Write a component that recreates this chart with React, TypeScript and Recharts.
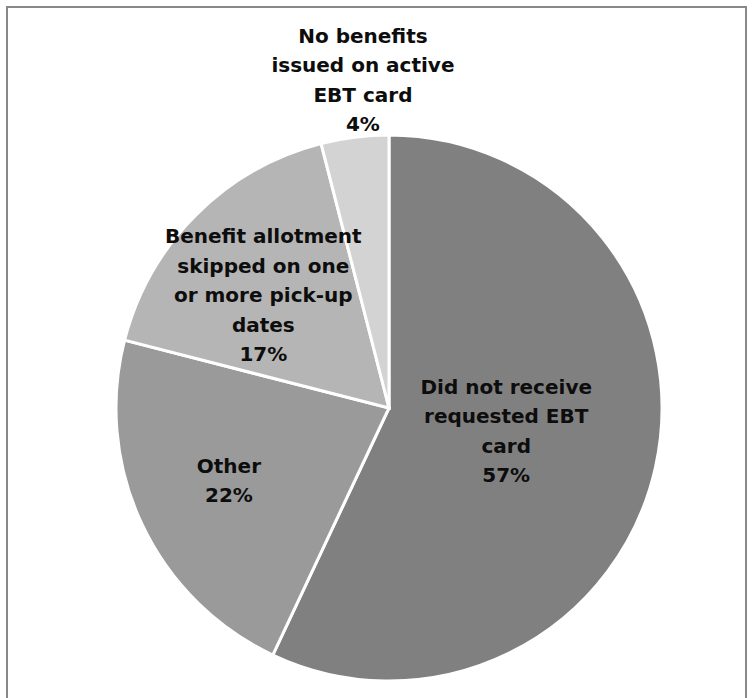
import { PieChart, Pie, Cell } from "recharts";

// slices, clockwise from 12 o'clock
const categories = [
  ["Did not receive", "requested EBT", "card"],
  ["Other"],
  ["Benefit allotment", "skipped on one", "or more pick-up", "dates"],
  ["No benefits", "issued on active", "EBT card"],
];
const shares = [57, 22, 17, 4];

const COLORS = ["#808080", "#9a9a9a", "#b5b5b5", "#d3d3d3"];
// how far out each label sits (fraction of radius) plus small nudges
const LABEL_POS = [
  { k: 0.44, dx: 0, dy: -3 },
  { k: 0.64, dx: -2, dy: -2 },
  { k: 0.62, dx: -6, dy: 7 },
  { k: 1.2, dx: 15, dy: -3 },
];
const RAD = Math.PI / 180;
const LINE_H = 29.5;

const data = shares.map((v, i) => ({ name: categories[i].join(" "), value: v, idx: i }));

function SliceLabel(props: any) {
  const { cx, cy, midAngle, outerRadius, index, value } = props;
  const pos = LABEL_POS[index];
  const r = outerRadius * pos.k;
  const x = cx + Math.cos(-midAngle * RAD) * r + pos.dx;
  const y = cy + Math.sin(-midAngle * RAD) * r + pos.dy;
  const lines = [...categories[index], `${value}%`];
  const top = y - ((lines.length - 1) / 2) * LINE_H;
  return (
    <text
      x={x}
      y={top}
      textAnchor="middle"
      dominantBaseline="central"
      fill="#0d0d0d"
      fontFamily="'DejaVu Sans', sans-serif"
      fontWeight="bold"
      fontSize={20}
    >
      {lines.map((l, i) => (
        <tspan key={i} x={x} y={top + i * LINE_H}>
          {l}
        </tspan>
      ))}
    </text>
  );
}

export default function App() {
  return (
    <div style={{ position: "absolute", left: 0, top: 0, width: 754, height: 698, background: "#fff" }}>
      <svg width={754} height={698} style={{ position: "absolute", left: 0, top: 0 }}>
        <rect x={7} y={7} width={739} height={720} fill="none" stroke="#888" strokeWidth={2} />
      </svg>
      <PieChart
        width={754}
        height={698}
        margin={{ top: 0, right: 0, bottom: 0, left: 0 }}
        style={{ position: "absolute", left: 0, top: 0 }}
      >
        <Pie
          data={data}
          dataKey="value"
          cx={389}
          cy={408}
          outerRadius={273}
          startAngle={90}
          endAngle={-270}
          stroke="#fff"
          strokeWidth={3}
          labelLine={false}
          label={SliceLabel}
          isAnimationActive={false}
        >
          {data.map((d, i) => (
            <Cell key={d.name} fill={COLORS[i]} />
          ))}
        </Pie>
      </PieChart>
    </div>
  );
}
